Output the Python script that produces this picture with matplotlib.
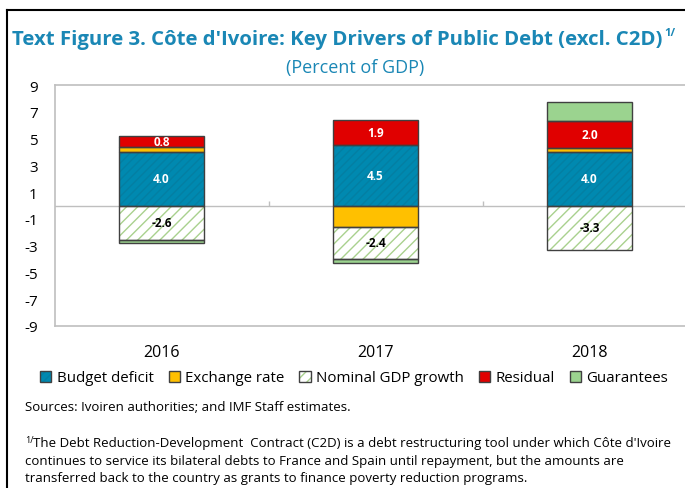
import matplotlib
matplotlib.use('Agg')
import matplotlib.pyplot as plt
from matplotlib.patches import Patch
from matplotlib.lines import Line2D
import numpy as np

plt.rcParams['font.family'] = ['Open Sans', 'DejaVu Sans']
plt.rcParams['hatch.linewidth'] = 1.0
plt.rcParams['axes.unicode_minus'] = False

# Datos
years = ['2016', '2017', '2018']
budget_deficit = [4.0, 4.5, 4.0]
exchange_rate = [0.4, -1.6, 0.3]
nominal_gdp = [-2.6, -2.4, -3.3]
residual = [0.8, 1.9, 2.0]
guarantees = [-0.2, -0.3, 1.4]

series_names = ['Budget deficit', 'Exchange rate', 'Nominal GDP growth', 'Residual', 'Guarantees']
series_vals = [budget_deficit, exchange_rate, nominal_gdp, residual, guarantees]
face = ['#0089B0', '#FFC000', 'white', '#E00000', '#9BD38F']
hatch = ['////', None, '///', None, None]
hatch_col = ['#047FA3', '#FFC000', '#A9D18E', '#E00000', '#9BD38F']
label_col = ['white', None, 'black', 'white', None]

title_col = '#1A87B5'
edge = '#404040'

fig = plt.figure(figsize=(6.85, 4.89), dpi=100)
W, H = 685, 489

ax = fig.add_axes([54.5 / W, 1 - 327 / H, 642 / W, 241 / H])
x = np.arange(len(years))
bw = 0.4

pos = np.zeros(len(years))
neg = np.zeros(len(years))
for i, vals in enumerate(series_vals):
    vals = np.array(vals)
    bottom = np.where(vals >= 0, pos, neg)
    # relleno con hatch
    ax.bar(x, vals, bw, bottom=bottom, color=face[i], hatch=hatch[i],
           edgecolor=hatch_col[i], linewidth=0, zorder=2)
    # borde
    ax.bar(x, vals, bw, bottom=bottom, fill=False, edgecolor=edge, linewidth=1, zorder=3)
    if label_col[i] is not None:
        for xi, b, v in zip(x, bottom, vals):
            ax.text(xi, b + v / 2, '%.1f' % v, ha='center', va='center', fontsize=8.5,
                    fontweight='bold', color=label_col[i], zorder=4)
    pos = pos + np.where(vals >= 0, vals, 0)
    neg = neg + np.where(vals < 0, vals, 0)

ax.axhline(0, color='#BFBFBF', linewidth=1, zorder=1)
ax.vlines(x[:-1] + 0.5, 0, 0.3, color='#BFBFBF', linewidth=1, zorder=1)

ax.set_xlim(-0.5, 2.5)
ax.set_ylim(-9, 9)
ax.set_yticks(np.arange(-9, 10, 2))
ax.set_xticks(x)
ax.set_xticklabels(years)
ax.tick_params(axis='y', length=0, pad=12, labelsize=11)
ax.tick_params(axis='x', length=0, pad=13, labelsize=11.5)
for s in ax.spines.values():
    s.set_color('#BFBFBF')
    s.set_linewidth(1.2)

# Leyenda
handles = []
for i in range(len(series_names)):
    p1 = Patch(facecolor=face[i], hatch=hatch[i], edgecolor=hatch_col[i], linewidth=0)
    p2 = Patch(fill=False, edgecolor=edge, linewidth=1)
    handles.append((p1, p2))


def make_legend(fs):
    return fig.legend(handles, series_names, loc='center', bbox_to_anchor=(354 / W, 1 - 379 / H),
                      ncol=5, frameon=False, fontsize=fs, handlelength=0.75, handleheight=0.75,
                      handletextpad=0.35, columnspacing=1.0, borderpad=0)


leg = make_legend(11.5)
fig.canvas.draw()
lw_px = leg.get_window_extent().width
leg.remove()
leg = make_legend(11.5 * 628 / lw_px)

# Titulos
t = fig.text(12 / W, 1 - 40 / H, "Text Figure 3. Côte d'Ivoire: Key Drivers of Public Debt (excl. C2D)",
             ha='left', va='center', fontsize=14, fontweight='bold', color=title_col)
fig.canvas.draw()
bb = t.get_window_extent()
t.set_fontsize(14 * (656 / bb.width))
fig.canvas.draw()
bb = t.get_window_extent()
fig.text((bb.x1 + 2) / W, 1 - 33 / H, '1/', ha='left', va='center', fontsize=8,
         fontweight='bold', color=title_col)
fig.text(355 / W, 1 - 68 / H, '(Percent of GDP)', ha='center', va='center', fontsize=13,
         color=title_col)

# Fuentes y nota
fig.text(25 / W, 1 - 407.5 / H, 'Sources: Ivoiren authorities; and IMF Staff estimates.',
         ha='left', va='center', fontsize=9.5)
fig.text(25 / W, 1 - 441 / H, '1/', ha='left', va='center', fontsize=6.5)
notes = ["The Debt Reduction-Development  Contract (C2D) is a debt restructuring tool under which Côte d'Ivoire",
         "continues to service its bilateral debts to France and Spain until repayment, but the amounts are",
         "transferred back to the country as grants to finance poverty reduction programs."]
note_y = [444, 461.5, 478.5]
n0 = fig.text(33 / W, 1 - note_y[0] / H, notes[0], ha='left', va='center', fontsize=9.5)
fig.canvas.draw()
fs = 9.5 * (640 / n0.get_window_extent().width)
n0.set_fontsize(fs)
fig.text(25 / W, 1 - note_y[1] / H, notes[1], ha='left', va='center', fontsize=fs)
fig.text(25 / W, 1 - note_y[2] / H, notes[2], ha='left', va='center', fontsize=fs)

# Borde
fig.add_artist(Line2D([7 / W, 7 / W], [0, 1 - 11 / H], color='black', linewidth=1.5))
fig.add_artist(Line2D([7 / W, 1], [1 - 11 / H, 1 - 11 / H], color='black', linewidth=1.5))

fig.savefig('out.png', dpi=100)
